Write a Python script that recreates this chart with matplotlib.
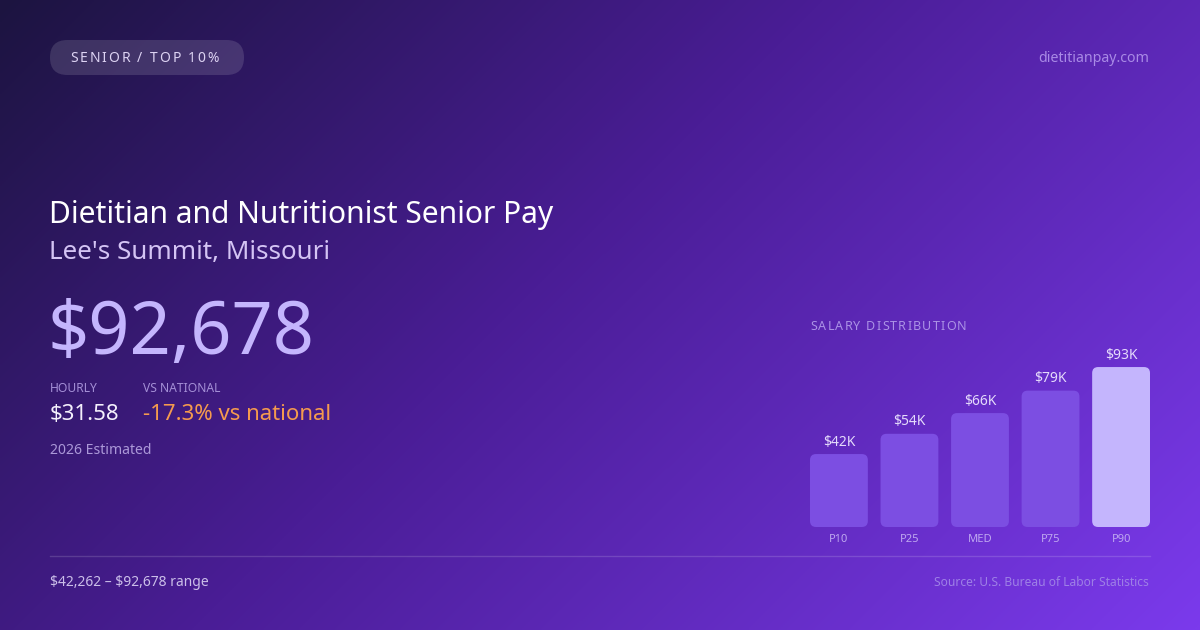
#!/usr/bin/env python3
"""
Salary card: senior dietitian pay in Lee's Summit, Missouri,
with a small percentile bar chart on the right.
"""

import numpy as np
import matplotlib
matplotlib.use("Agg")
import matplotlib.pyplot as plt
from matplotlib.colors import LinearSegmentedColormap
from matplotlib.patches import FancyBboxPatch

plt.rcParams['font.family'] = ['Noto Sans', 'DejaVu Sans']
plt.rcParams['text.parse_math'] = False

# data
percentiles = ["P10", "P25", "MED", "P75", "P90"]
salaries_k = [42.262, 54.0, 66.0, 79.0, 92.678]
value_labels = ["$42K", "$54K", "$66K", "$79K", "$93K"]

badge_text = "SENIOR / TOP 10%"
site = "dietitianpay.com"
title = "Dietitian and Nutritionist Senior Pay"
subtitle = "Lee's Summit, Missouri"
headline = "$92,678"
hourly = "$31.58"
vs_national = "-17.3% vs national"
estimate_note = "2026 Estimated"
range_note = "$42,262 \u2013 $92,678 range"
source_note = "Source: U.S. Bureau of Labor Statistics"

W, H = 1200, 630
fig = plt.figure(figsize=(W / 100, H / 100), dpi=100)

# Background: diagonal gradient, drawn in pixel coords (origin top-left)
bg = fig.add_axes([0, 0, 1, 1])
bg.set_axis_off()
gx, gy = np.meshgrid(np.linspace(0, 1, 600), np.linspace(0, 1, 315))
t = (gx * W + gy * H) / (W + H)
cmap = LinearSegmentedColormap.from_list(
    "bg", [(0, "#1c1440"), (0.45, "#4a1d96"), (1, "#7b3aec")])
bg.imshow(t, cmap=cmap, extent=[0, W, H, 0], aspect="auto", interpolation="bilinear")
bg.set_xlim(0, W)
bg.set_ylim(H, 0)


def spaced_text(x, y, s, spacing, **kw):
    """Draw text with letter spacing (pixels), left aligned at x."""
    renderer = fig.canvas.get_renderer()
    cur = x
    for ch in s:
        if ch == " ":
            a = bg.text(0, 0, "a a", **kw)
            b = bg.text(0, 0, "aa", **kw)
            w = a.get_window_extent(renderer).width - b.get_window_extent(renderer).width
            a.remove()
            b.remove()
        else:
            t = bg.text(cur, y, ch, ha="left", va="center", **kw)
            w = t.get_window_extent(renderer).width
        cur += w + spacing


# Badge
badge = FancyBboxPatch((50, 40), 194, 35,
                       boxstyle="round,pad=0,rounding_size=17.5",
                       facecolor="white", alpha=0.13, edgecolor="none")
bg.add_patch(badge)
spaced_text(70, 59, badge_text, 1.9, fontsize=10, color="#ddd3f3")

bg.text(1149, 58, site, ha="right", va="center", fontsize=10.2, color="#a98ae6")

# Left texts
bg.text(49, 215, title, ha="left", va="center", fontsize=21.6, color="white")
bg.text(49, 252, subtitle, ha="left", va="center", fontsize=18.7, color="#d4c4f4")
bg.text(47, 335, headline, ha="left", va="center", fontsize=52, color="#c4b5fd")
bg.text(50, 388, "HOURLY", ha="left", va="center", fontsize=8.7, color="#a48fd6")
bg.text(143, 388, "VS NATIONAL", ha="left", va="center", fontsize=8.7, color="#a48fd6")
bg.text(50, 414, hourly, ha="left", va="center", fontsize=16, color="#f4f0fc")
bg.text(143, 414, vs_national, ha="left", va="center", fontsize=16, color="#f59a4e")
bg.text(50, 450, estimate_note, ha="left", va="center", fontsize=10.1, color="#ab98d8")

# Divider and footer
bg.plot([50, 1150], [556, 556], color="white", alpha=0.15, lw=1)
bg.text(50, 582, range_note, ha="left", va="center", fontsize=10, color="#cbbfe9")
bg.text(1149, 582, source_note, ha="right", va="center", fontsize=8.65, color="#9e80e6")

spaced_text(810, 326, "SALARY DISTRIBUTION", 1.2, fontsize=9, color="#ab92e6")

# Bar chart
bar_bottom = 527
y_px_per_unit = 1.726
ax = fig.add_axes([810 / W, (H - bar_bottom) / H, 340 / W, 100 * y_px_per_unit / H])
ax.set_xlim(-0.41, 4.41)
ax.set_ylim(0, 100)
ax.set_axis_off()
ax.patch.set_alpha(0)

x = np.arange(len(percentiles))
colors = ["#7c4ee2"] * 4 + ["#c4b5fd"]
bars = ax.bar(x, salaries_k, width=0.82, color=colors)

# swap the plain rectangles for rounded ones of the same geometry
x_px_per_unit = 340 / 4.82
aspect = x_px_per_unit / y_px_per_unit
for rect, c in zip(bars.patches, colors):
    rect.set_visible(False)
    r = 6 / x_px_per_unit
    fb = FancyBboxPatch((rect.get_x(), rect.get_y()), rect.get_width(), rect.get_height(),
                        boxstyle=f"round,pad=0,rounding_size={r}",
                        mutation_aspect=aspect, facecolor=c, edgecolor="none")
    ax.add_patch(fb)

for xi, v, lab in zip(x, salaries_k, value_labels):
    ax.annotate(lab, (xi, v), xytext=(0, 12), textcoords="offset pixels",
                ha="center", va="center", fontsize=10, color="#e4dafb")
    ax.annotate(percentiles[xi], (xi, 0), xytext=(0, -13), textcoords="offset pixels",
                ha="center", va="center", fontsize=8, color="#bfa8f0",
                annotation_clip=False)

fig.savefig("out.png", dpi=100)
